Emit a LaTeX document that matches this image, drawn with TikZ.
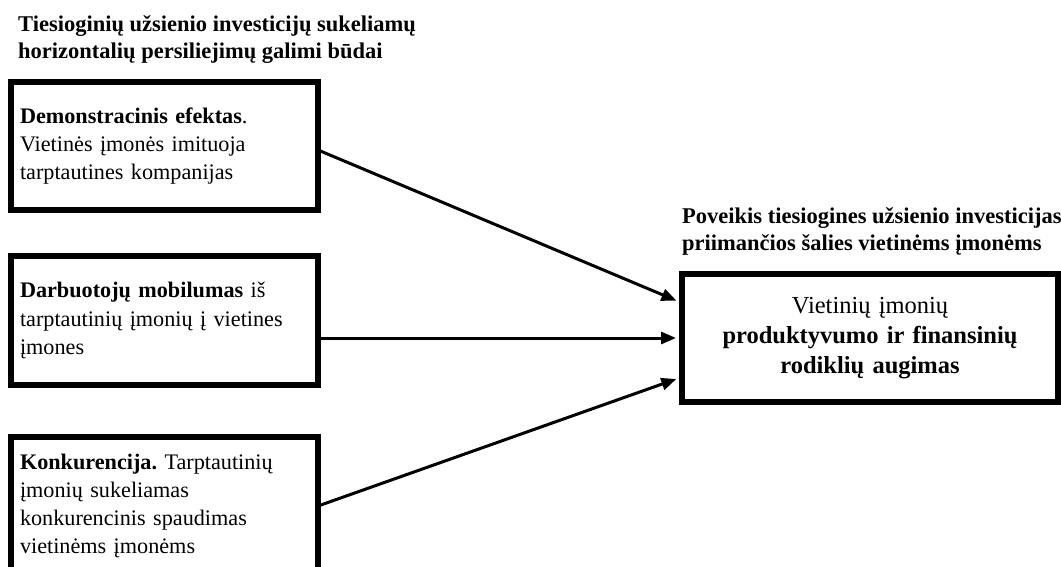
\documentclass[tikz,border=0pt]{standalone}
\usepackage{fontspec}
\setmainfont{Liberation Serif}
\usetikzlibrary{arrows.meta,positioning}
\frenchspacing

\begin{document}
\begin{tikzpicture}[x=1pt,y=-1pt,
  box/.style={draw,line width=5.5pt,outer sep=0pt,inner xsep=9pt,inner ysep=0pt,
    align=left,text width=289pt,font=\fontsize{22.2}{28.3}\selectfont},
  goal/.style={box,align=center,text width=358pt,font=\fontsize{24.5}{30}\selectfont},
  heading/.style={anchor=north west,inner sep=0pt,align=left,
    font=\fontsize{22.5}{26.5}\selectfont\bfseries},
  arr/.style={line width=3pt,-{Triangle[length=15pt,width=12pt]}}]
\useasboundingbox (0,0) rectangle (1061,567);
% Headings
\node[heading] (hl) at (18,15.5) {Tiesioginių užsienio investicijų sukeliamų\\horizontalių persiliejimų galimi būdai};
\node[heading] (hr) at (682,207.5) {Poveikis tiesiogines užsienio investicijas\\priimančios šalies vietinėms įmonėms};
% Left boxes
\node[box,minimum height=128pt] (demo) at (164.5,146) {\textbf{Demonstracinis efektas}.\\Vietinės įmonės imituoja\\tarptautines kompanijas};
\node[box,minimum height=129pt] (mob) at (164.5,320.5) {\textbf{Darbuotojų mobilumas} iš\\tarptautinių įmonių į vietines\\įmones};
\node[box,minimum height=138pt] (konk) at (164.5,506) {\textbf{Konkurencija.} Tarptautinių\\įmonių sukeliamas\\konkurencinis spaudimas\\vietinėms įmonėms};
% Right box
\node[goal,minimum height=128pt] (aug) at (870,338) {Vietinių įmonių\\\textbf{produktyvumo ir finansinių}\\\textbf{rodiklių augimas}};
% Arrows
\draw[arr,shorten >=6pt] ([yshift=-4pt]demo.east) -- ([yshift=35pt]aug.west);
\draw[arr,shorten >=6pt] (mob.east |- aug.west) -- (aug.west);
\draw[arr,shorten >=6pt] (konk.east) -- ([yshift=-39pt]aug.west);
\end{tikzpicture}
\end{document}
